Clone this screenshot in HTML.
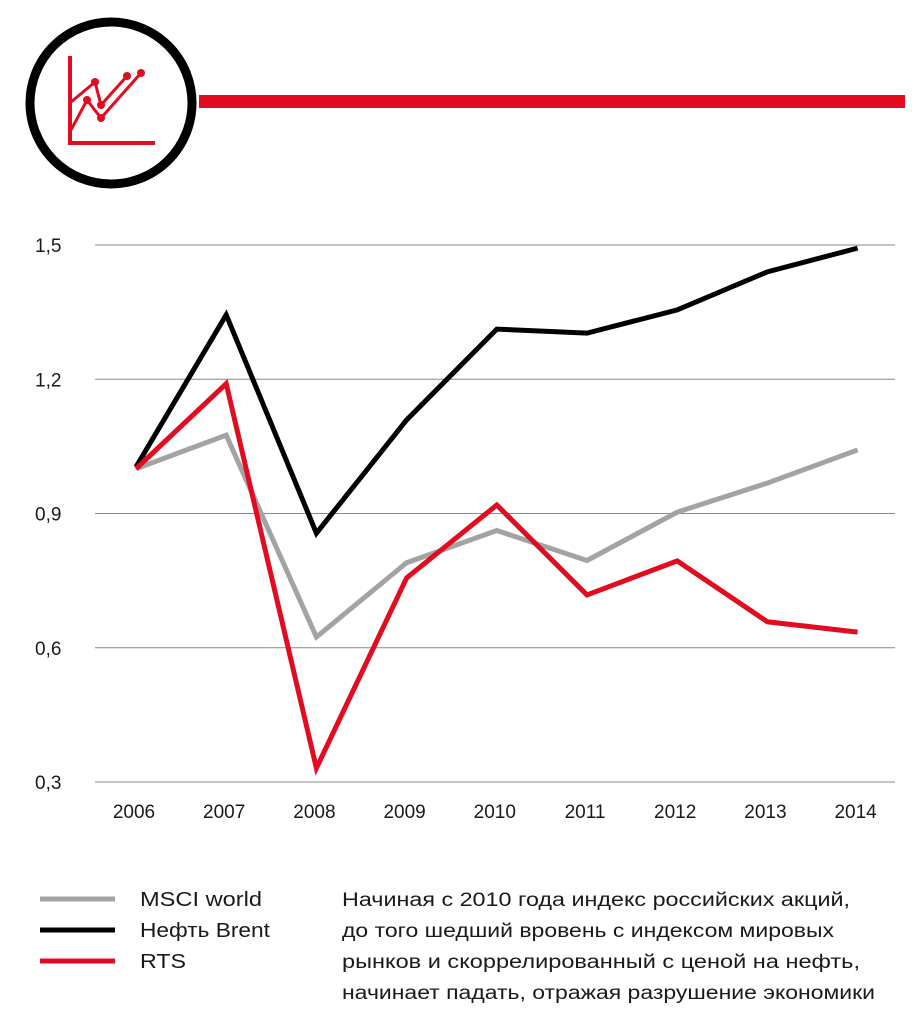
<!DOCTYPE html>
<html><head><meta charset="utf-8"><style>
body{margin:0;background:#fff;width:924px;height:1024px;overflow:hidden;font-family:"Liberation Sans",sans-serif}
svg text{font-family:"Liberation Sans","Noto Sans CJK SC",sans-serif;fill:#1a1a1a}
</style></head><body>
<svg width="924" height="1024">
<g>
<circle cx="111" cy="103" r="81" fill="none" stroke="#000" stroke-width="9"/>
<rect x="199" y="95" width="706" height="13" fill="#e30b20"/>
<path d="M70 56V143H155" fill="none" stroke="#e30b20" stroke-width="4"/>
<path d="M71 102L95 82L101 105L127 76M71 130L87 100L101 118L141 73" fill="none" stroke="#e30b20" stroke-width="3"/>
<g fill="#e30b20"><circle cx="95" cy="82" r="4"/><circle cx="87" cy="100" r="4"/><circle cx="101" cy="105" r="4"/><circle cx="101" cy="118" r="4"/><circle cx="127" cy="76" r="4"/><circle cx="141" cy="73" r="4"/></g>
</g>
<g id="grid"></g><g id="xt"></g><g id="lines"></g>
<g font-size="20">
<line x1="40" y1="899" x2="115" y2="899" stroke="#a3a3a3" stroke-width="5"/><text x="140" y="906" font-size="20" textLength="122" lengthAdjust="spacingAndGlyphs">MSCI world</text>
<line x1="40" y1="930" x2="115" y2="930" stroke="#000" stroke-width="5"/><text x="140" y="937" font-size="20" textLength="130" lengthAdjust="spacingAndGlyphs">Нефть Brent</text>
<line x1="40" y1="961" x2="115" y2="961" stroke="#e30b20" stroke-width="5"/><text x="140" y="968" font-size="20" textLength="46" lengthAdjust="spacingAndGlyphs">RTS</text>
</g>
<g font-size="19">
<text x="342" y="906" textLength="508" lengthAdjust="spacingAndGlyphs">Начиная с 2010 года индекс российских акций,</text>
<text x="342" y="937" textLength="492" lengthAdjust="spacingAndGlyphs">до того шедший вровень с индексом мировых</text>
<text x="342" y="968" textLength="518" lengthAdjust="spacingAndGlyphs">рынков и скоррелированный с ценой на нефть,</text>
<text x="342" y="999" textLength="533" lengthAdjust="spacingAndGlyphs">начинает падать, отражая разрушение экономики</text>
</g>
</svg>
<script>
const years=["2006","2007","2008","2009","2010","2011","2012","2013","2014"];
const yTicks=[0.3,0.6,0.9,1.2,1.5];
const yTickLabels=["0,3","0,6","0,9","1,2","1,5"];
const msci=[1.0,1.075,0.624,0.79,0.862,0.795,0.903,0.968,1.042];
const brent=[1.004,1.344,0.856,1.109,1.312,1.303,1.355,1.44,1.493];
const rts=[1.0,1.19,0.331,0.756,0.919,0.718,0.794,0.658,0.635];
const NS="http://www.w3.org/2000/svg";
const x=i=>136+i*90.2;
const y=v=>782-(v-0.3)/1.2*537;
function mk(t,a,p){const e=document.createElementNS(NS,t);for(const k in a)e.setAttribute(k,a[k]);p.appendChild(e);return e;}
const g=document.getElementById('grid');
yTicks.forEach((v,i)=>{
 const l=mk('line',{x1:95,x2:895,y1:y(v),y2:y(v),stroke:'#8a8a8a','stroke-width':1},g);
 
 
 const t=mk('text',{x:35,y:y(v)+7,'font-size':19},g);t.textContent=yTickLabels[i];
 
 
});
const xt=document.getElementById('xt');
years.forEach((yr,i)=>{
 const t=mk('text',{x:x(i)-2,y:818,'font-size':19,'text-anchor':'middle'},xt);t.textContent=yr;
 
 
});
const L=document.getElementById('lines');
[[msci,'#a3a3a3','msci-line'],[brent,'#000','brent-line'],[rts,'#e30b20','rts-line']].forEach(([d,c,n])=>{
 const p=mk('polyline',{points:d.map((v,i)=>x(i)+','+y(v)).join(' '),fill:'none',stroke:c,'stroke-width':5,'stroke-linejoin':'miter'},L);
 
 
});
</script>
</body></html>
